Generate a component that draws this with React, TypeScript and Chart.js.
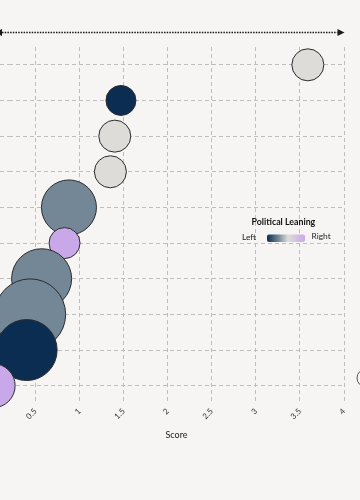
import React, { useEffect, useRef } from "react";
import { Chart, registerables } from "chart.js";

Chart.register(...registerables);

// ---- data ----
const rows = ["#1", "#2", "#3", "#4", "#5", "#6", "#7", "#8", "#9", "#10"];
const scores = [3.59, 1.47, 1.4, 1.35, 0.88, 0.83, 0.57, 0.44, 0.4, 0.02];
const sizes = [16, 15, 16, 16, 27.5, 15.5, 30, 35.5, 30.5, 22];
const leanings = ["Center", "Left", "Center", "Center", "Lean Left", "Right", "Lean Left", "Lean Left", "Left", "Right"];
const xMin = 0.2;
const xMax = 4;
const xStep = 0.5;
const xTitle = "Score";
const legendTitle = "Political Leaning";
const legendLeft = "Left";
const legendRight = "Right";

const leaningColors: Record<string, string> = {
  Left: "#0b2d52",
  "Lean Left": "#748797",
  Center: "#dddcd9",
  Right: "#c9a8e9",
};

const BG = "#f6f5f3";
const FONT = "Lato, 'Open Sans', sans-serif";

const decor = {
  id: "decor",
  beforeDraw(chart: any) {
    const { ctx, width, height } = chart;
    ctx.save();
    ctx.fillStyle = BG;
    ctx.fillRect(0, 0, width, height);
    ctx.restore();
  },
  afterDraw(chart: any) {
    const { ctx, chartArea: a } = chart;
    ctx.save();
    // double-headed dotted arrow above the plot
    const y = a.top - 14.5;
    const x0 = a.left - 14;
    const x1 = a.right + 0.5;
    ctx.strokeStyle = "#1a1a1a";
    ctx.fillStyle = "#1a1a1a";
    ctx.lineWidth = 1.5;
    ctx.setLineDash([1.5, 1.2]);
    ctx.beginPath();
    ctx.moveTo(x0 + 7, y);
    ctx.lineTo(x1 - 7, y);
    ctx.stroke();
    ctx.setLineDash([]);
    ctx.beginPath();
    ctx.moveTo(x1, y);
    ctx.lineTo(x1 - 7, y - 3.5);
    ctx.lineTo(x1 - 7, y + 3.5);
    ctx.closePath();
    ctx.fill();
    ctx.beginPath();
    ctx.moveTo(x0, y);
    ctx.lineTo(x0 + 7, y - 3.5);
    ctx.lineTo(x0 + 7, y + 3.5);
    ctx.closePath();
    ctx.fill();

    // colour-bar legend
    const barL = a.right - 77;
    const barW = 38;
    const barT = a.top + 187.5;
    const barH = 7.5;
    ctx.fillStyle = "#111";
    ctx.font = `bold 8.8px ${FONT}`;
    ctx.textAlign = "center";
    ctx.textBaseline = "middle";
    ctx.fillText(legendTitle, a.right - 60.6, a.top + 175.5);
    const g = ctx.createLinearGradient(barL, 0, barL + barW, 0);
    g.addColorStop(0, leaningColors.Left);
    g.addColorStop(0.3, leaningColors["Lean Left"]);
    g.addColorStop(0.55, leaningColors.Center);
    g.addColorStop(1, leaningColors.Right);
    ctx.fillStyle = g;
    ctx.beginPath();
    ctx.roundRect(barL, barT, barW, barH, 2);
    ctx.fill();
    ctx.fillStyle = "#222";
    ctx.font = `8.4px ${FONT}`;
    ctx.textAlign = "right";
    ctx.fillText(legendLeft, barL - 11, barT + 3);
    ctx.textAlign = "left";
    ctx.fillText(legendRight, barL + barW + 6.5, barT + 2);

    // size legend circle (right of the plot)
    ctx.strokeStyle = "#555";
    ctx.lineWidth = 1;
    ctx.beginPath();
    ctx.arc(a.right + 22, a.top + 331, 9, 0, Math.PI * 2);
    ctx.stroke();
    ctx.restore();
  },
};

export default function App() {
  const ref = useRef<HTMLCanvasElement | null>(null);
  useEffect(() => {
    if (!ref.current) return;
    const chart = new Chart(ref.current, {
      type: "bubble",
      data: {
        datasets: [
          {
            data: rows.map((r, i) => ({ x: scores[i], y: r as any, r: sizes[i] })),
            backgroundColor: leanings.map((l) => leaningColors[l]),
            borderColor: "#2b2b2b",
            borderWidth: 1,
            hoverBorderWidth: 1,
            clip: false as any,
          },
        ],
      },
      options: {
        animation: false,
        responsive: true,
        maintainAspectRatio: false,
        layout: { padding: { left: 40, right: 56, top: 47, bottom: 20 } },
        plugins: { legend: { display: false }, tooltip: { enabled: false } },
        scales: {
          x: {
            type: "linear",
            min: xMin,
            max: xMax,
            ticks: {
              stepSize: xStep,
              includeBounds: false,
              minRotation: 45,
              maxRotation: 45,
              padding: 3,
              color: "#333",
              font: { family: FONT, size: 8 },
              callback: (v: any) => String(v),
            },
            grid: { color: "#bdbdbd", lineWidth: 1, drawTicks: false },
            border: { display: false, dash: [4, 3] },
            title: {
              display: true,
              text: xTitle,
              color: "#222",
              font: { family: FONT, size: 9 },
              padding: { top: 5, bottom: 0 },
            },
          },
          y: {
            type: "category",
            labels: rows,
            offset: true,
            ticks: { display: false },
            grid: {
              color: "#bdbdbd",
              lineWidth: 1,
              offset: false,
              drawTicks: true,
              tickLength: 9,
              tickBorderDash: [4, 3],
            } as any,
            border: { display: false, dash: [4, 3] },
          },
        },
      },
      plugins: [decor],
    });
    return () => chart.destroy();
  }, []);

  return (
    <div
      style={{
        position: "fixed",
        left: 0,
        top: 0,
        width: 360,
        height: 500,
        overflow: "hidden",
        background: BG,
      }}
    >
      <div style={{ position: "absolute", left: -40, top: 0, width: 440, height: 460 }}>
        <canvas ref={ref} />
      </div>
    </div>
  );
}
